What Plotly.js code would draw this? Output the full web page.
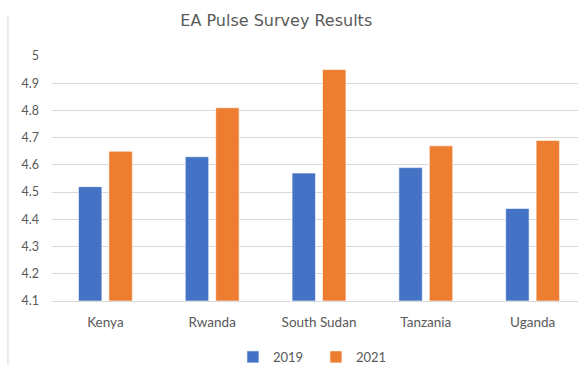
<!DOCTYPE html>
<html>
<head>
<meta charset="utf-8">
<script src="https://cdn.plot.ly/plotly-3.0.1.min.js"></script>
<style>html,body{margin:0;padding:0;background:#fff;}#chart{width:578px;height:365px;}</style>
</head>
<body>
<div id="chart"></div>
<script>
const categories = ["Kenya", "Rwanda", "South Sudan", "Tanzania", "Uganda"];
const values2019 = [4.52, 4.63, 4.57, 4.59, 4.44];
const values2021 = [4.65, 4.81, 4.95, 4.67, 4.69];
const seriesNames = ["2019", "2021"];
const yTicks = [4.1, 4.2, 4.3, 4.4, 4.5, 4.6, 4.7, 4.8, 4.9, 5];

const base = 4.1;
function trace(name, vals, color) {
  return {
    type: "bar", name: name, x: categories,
    y: vals.map(v => v - base), base: base,
    marker: {color: color, line: {color: "#ffffff", width: 0.6}},
    hoverinfo: "x+text", text: vals.map(String), textposition: "none"
  };
}
const data = [
  trace(seriesNames[0], values2019, "#4472C4"),
  trace(seriesNames[1], values2021, "#ED7D31")
];
const tf = "Lato, 'Open Sans', sans-serif";
const layout = {
  width: 578, height: 365,
  margin: {l: 52, r: 0, t: 56, b: 64, pad: 0},
  paper_bgcolor: "#ffffff", plot_bgcolor: "#ffffff",
  title: {text: "EA Pulse Survey Results", x: 0.478, xanchor: "center", xref: "container",
          y: 0.945, yanchor: "middle", yref: "container",
          font: {family: "'DejaVu Sans', sans-serif", size: 16, color: "#595959"}},
  barmode: "group", bargap: 0.43, bargroupgap: 0.23,
  xaxis: {range: [-0.5, 4.425], showgrid: false, showline: true, linecolor: "#D9D9D9", linewidth: 1,
          ticks: "", ticklabelstandoff: 9, automargin: false,
          tickfont: {family: tf, size: 13.5, color: "#595959"}, fixedrange: true},
  yaxis: {range: [4.1, 5], tickvals: yTicks, ticktext: yTicks.map(v => String(v)), automargin: false,
          showgrid: true, gridcolor: "#D9D9D9", gridwidth: 1, zeroline: false, showline: false,
          ticks: "", ticklabelstandoff: 12, tickfont: {family: tf, size: 12.5, color: "#595959"}},
  showlegend: true,
  legend: {orientation: "h", xref: "container", yref: "container", x: 0.403, xanchor: "left",
           y: 0.022, yanchor: "middle", entrywidth: 38, entrywidthmode: "pixels",
           font: {family: tf, size: 13, color: "#595959"}, itemwidth: 30, traceorder: "normal"},
  shapes: [{type: "line", xref: "paper", yref: "paper", x0: -0.0837, x1: -0.0837, y0: -0.27, y1: 1.167,
            line: {color: "#D9D9D9", width: 1}}]
};
Plotly.newPlot("chart", data, layout, {displayModeBar: false, staticPlot: true});
</script>
</body>
</html>
